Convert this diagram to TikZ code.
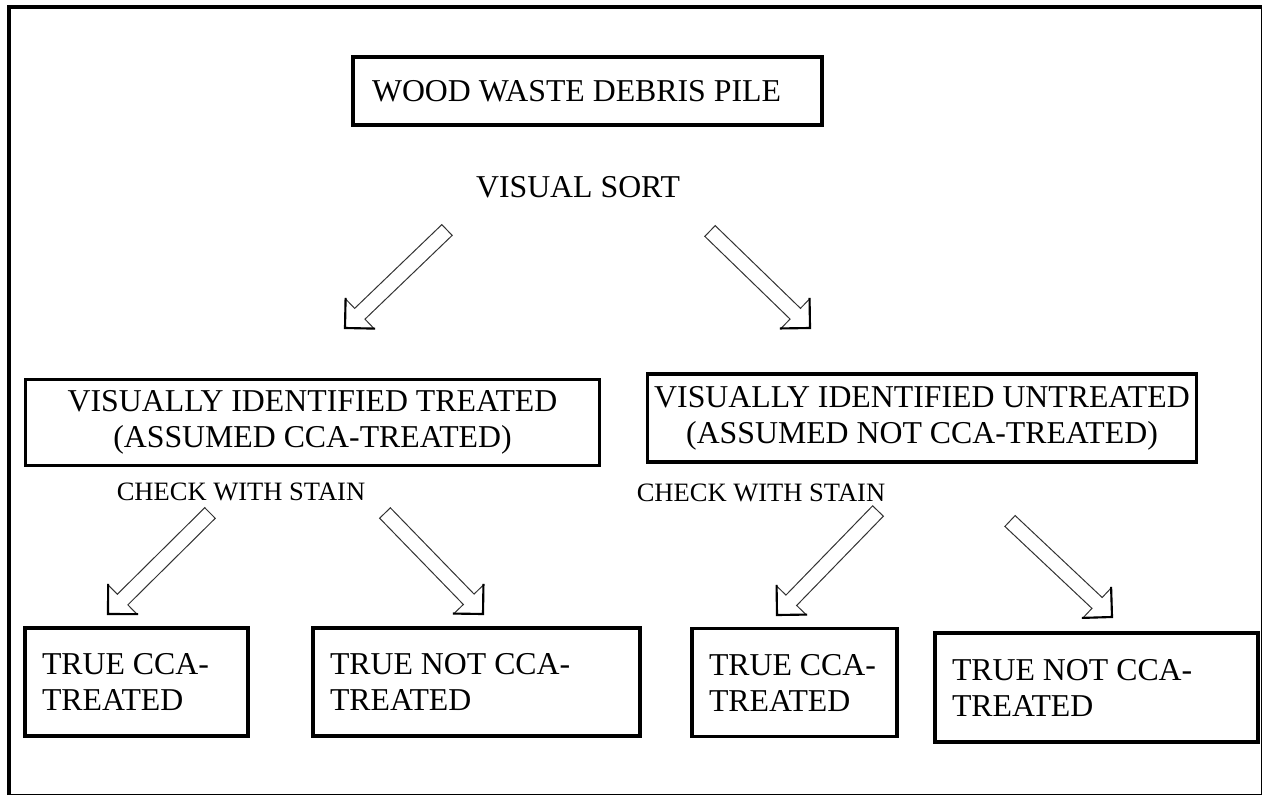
\documentclass[tikz,border=0pt]{standalone}
\usepackage{fontspec}
\setmainfont{Liberation Serif}
\usetikzlibrary{calc}
\newcommand\hollowarr[2]{%
  \coordinate (hb) at ($(#2)!15.4pt!(#1)$);
  \draw[arrowline] ($(#1)!5.6pt!90:(#2)$) -- ($(hb)!5.6pt!90:(#2)$) -- ($(hb)!15.4pt!90:(#2)$) -- (#2) -- ($(hb)!15.4pt!-90:(#2)$) -- ($(hb)!5.6pt!-90:(#2)$) -- ($(#1)!5.6pt!-90:(#2)$) -- cycle;
  \draw[headline] ($(hb)!15.4pt!90:(#2)$) -- (#2) -- ($(hb)!15.4pt!-90:(#2)$);
}
\tikzset{
  box/.style={draw, line width=2.3pt, inner ysep=0pt},
  txt/.style={font=\fontsize{23.85}{27}\selectfont},
  small/.style={font=\fontsize{19.9}{24}\selectfont},
  leftbox/.style={box, txt, align=flush left, inner xsep=12.75pt},
  arrowline/.style={line width=0.75pt, draw=black!80, line join=miter},
  headline/.style={line width=1.6pt, line join=miter, line cap=rect},
}
\begin{document}
\begin{tikzpicture}[x=0.75pt,y=-0.75pt]
\useasboundingbox (0,0) rectangle (1262,795);
% frame
\draw[line width=3pt] (9,795) -- (9,7) -- (1262,7);
\draw[line width=0.75pt] (1261,7) -- (1261,794) -- (9,794);
% boxes
\node[box, txt, align=flush left, inner xsep=14.25pt, text width=323.25pt, minimum height=51pt] (pile) at (587.5,91) {WOOD WASTE DEBRIS PILE};
\node[txt] (vsort) at (578,187) {VISUAL SORT};
\node[box, txt, align=center, inner sep=0pt, minimum width=431pt, minimum height=64pt] (treated) at (312.5,422.5) {VISUALLY IDENTIFIED TREATED\\(ASSUMED CCA-TREATED)};
\node[box, txt, align=center, inner sep=0pt, minimum width=412pt, minimum height=66pt] (untreated) at (922,418) {VISUALLY IDENTIFIED UNTREATED\\(ASSUMED NOT CCA-TREATED)};
\node[small] (chkL) at (241,492) {CHECK WITH STAIN};
\node[small] (chkR) at (761,493) {CHECK WITH STAIN};
\node[leftbox, text width=141.75pt, minimum height=81pt] (b1) at (136.5,682) {TRUE CCA-\\TREATED};
\node[leftbox, text width=219.75pt, minimum height=81pt] (b2) at (476.5,682) {TRUE NOT CCA-\\TREATED};
\node[leftbox, text width=128.25pt, minimum height=81pt] (b3) at (794.5,682.5) {TRUE CCA-\\TREATED};
\node[leftbox, text width=216.75pt, minimum height=81.75pt] (b4) at (1096.5,687.5) {TRUE NOT CCA-\\TREATED};
% arrows
\coordinate (t1) at (447,230); \coordinate (p1) at (345,328);
\coordinate (t2) at (710,231); \coordinate (p2) at (810,328);
\coordinate (t3) at (210,513); \coordinate (p3) at (108,614);
\coordinate (t4) at (385,513); \coordinate (p4) at (483,614);
\coordinate (t5) at (878,511); \coordinate (p5) at (777,615);
\coordinate (t6) at (1010,521); \coordinate (p6) at (1112,617);
\hollowarr{t1}{p1}
\hollowarr{t2}{p2}
\hollowarr{t3}{p3}
\hollowarr{t4}{p4}
\hollowarr{t5}{p5}
\hollowarr{t6}{p6}
\end{tikzpicture}
\end{document}
